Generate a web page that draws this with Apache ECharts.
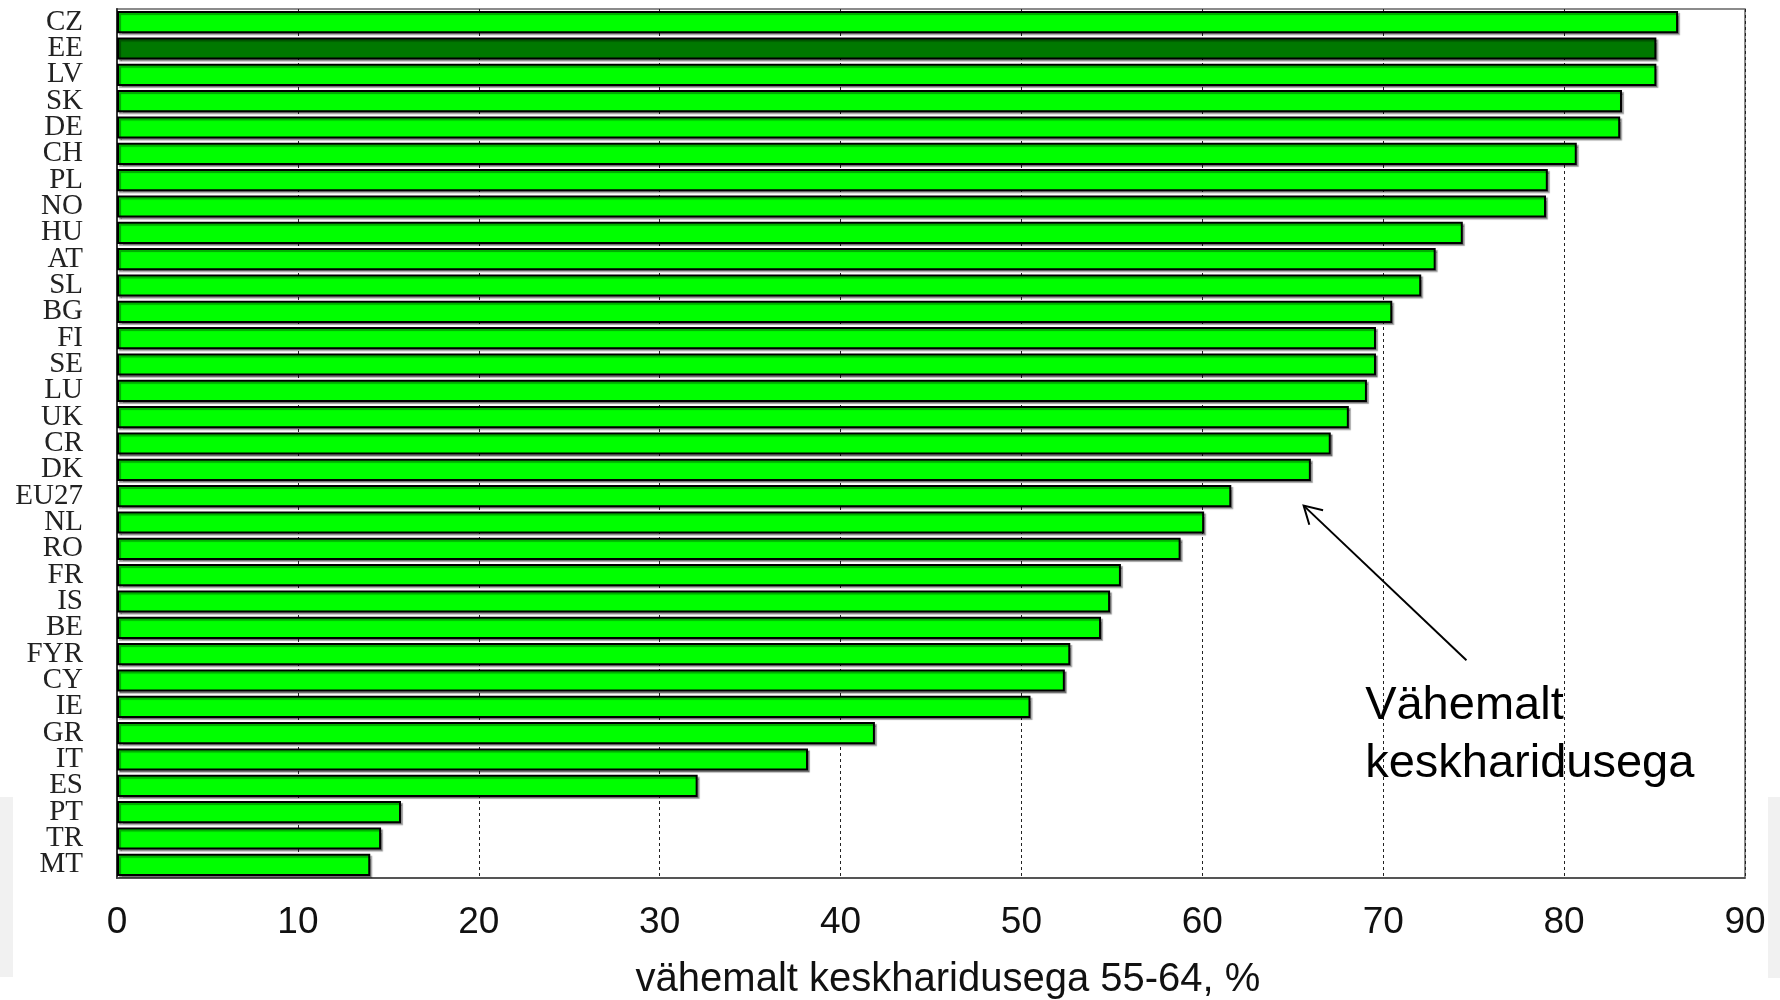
<!DOCTYPE html>
<html>
<head>
<meta charset="utf-8">
<script src="https://cdn.jsdelivr.net/npm/echarts@6/dist/echarts.min.js"></script>
<style>
  html, body { margin: 0; padding: 0; background: #ffffff; }
  #chart { width: 1780px; height: 1000px; }
</style>
</head>
<body>
<div id="chart"></div>
<script>
// ---- data ----
const categories = ['CZ','EE','LV','SK','DE','CH','PL','NO','HU','AT','SL','BG','FI','SE','LU','UK','CR','DK','EU27','NL','RO','FR','IS','BE','FYR','CY','IE','GR','IT','ES','PT','TR','MT'];
const values = [86.3,85.1,85.1,83.2,83.1,80.7,79.1,79.0,74.4,72.9,72.1,70.5,69.6,69.6,69.1,68.1,67.1,66.0,61.6,60.1,58.8,55.5,54.9,54.4,52.7,52.4,50.5,41.9,38.2,32.1,15.7,14.6,14.0];
const highlightCategory = 'EE';
const xMin = 0, xMax = 90, xStep = 10;
const xAxisTitle = 'vähemalt keskharidusega 55-64, %';
const noteText = 'Vähemalt\nkeskharidusega';
// annotation anchors in data space: [value, category position]
const arrowTip = [65.6, 18.36];
const arrowTail = [74.6, 24.23];
const noteAnchor = [69.0, 24.88];

const chart = echarts.init(document.getElementById('chart'), null, { renderer: 'canvas' });

const barData = values.map((v, i) => categories[i] === highlightCategory
  ? { value: v, itemStyle: { color: '#007800' } }
  : { value: v });

chart.setOption({
  animation: false,
  backgroundColor: '#ffffff',
  grid: { left: 117, right: 35, top: 9, bottom: 122, containLabel: false, outerBoundsMode: 'none',
    show: true, borderColor: '#666', borderWidth: 1.5 },
  xAxis: {
    type: 'value', min: xMin, max: xMax, interval: xStep,
    axisLine: { show: true, lineStyle: { color: '#444', width: 1.5 } },
    axisTick: { show: false },
    axisLabel: { fontSize: 37, fontFamily: 'Liberation Sans', color: '#111', margin: 26 },
    splitLine: { show: true, lineStyle: { type: [3, 3], color: '#222', width: 1 } },
    name: xAxisTitle, nameLocation: 'middle', nameGap: 82,
    nameTextStyle: { fontSize: 40, fontFamily: 'Liberation Sans', color: '#111', padding: [0, 0, 0, 34] }
  },
  yAxis: {
    type: 'category', data: categories, inverse: true,
    axisLine: { show: true, lineStyle: { color: '#333', width: 2 } },
    axisTick: { show: false },
    axisLabel: { interval: 0, fontFamily: 'Liberation Serif', fontSize: 29, color: '#222', margin: 34 }
  },
  series: [{
    type: 'bar', data: barData, barCategoryGap: '16%',
    itemStyle: { color: '#00ff00', borderColor: '#000', borderWidth: 2,
      shadowColor: 'rgba(0,0,0,0.35)', shadowOffsetX: 2, shadowOffsetY: 2, shadowBlur: 1 }
  }]
});

// map data-space annotation coords to pixels via the chart's own axes
const p0 = chart.convertToPixel({ gridIndex: 0 }, [xMin, 0]);
const p1 = chart.convertToPixel({ gridIndex: 0 }, [xMax, categories.length - 1]);
function toPx(pt) {
  const x = p0[0] + (pt[0] - xMin) / (xMax - xMin) * (p1[0] - p0[0]);
  const y = p0[1] + pt[1] / (categories.length - 1) * (p1[1] - p0[1]);
  return [x, y];
}
const tip = toPx(arrowTip), tail = toPx(arrowTail), note = toPx(noteAnchor);
const ang = Math.atan2(tail[1] - tip[1], tail[0] - tip[0]);
const wing = 20, spread = Math.PI / 6;
const w1 = [tip[0] + wing * Math.cos(ang - spread), tip[1] + wing * Math.sin(ang - spread)];
const w2 = [tip[0] + wing * Math.cos(ang + spread), tip[1] + wing * Math.sin(ang + spread)];

chart.setOption({
  graphic: [
    { type: 'rect', z: -10, shape: { x: 0, y: 797, width: 13, height: 180 }, style: { fill: '#f1f1f1' } },
    { type: 'rect', z: -10, shape: { x: 1768, y: 797, width: 12, height: 181 }, style: { fill: '#f1f1f1' } },
    { type: 'polyline', z: 100, shape: { points: [tail, tip] }, style: { stroke: '#000', lineWidth: 2, fill: null } },
    { type: 'polyline', z: 100, shape: { points: [w1, tip, w2] }, style: { stroke: '#000', lineWidth: 2, fill: null } },
    { type: 'text', z: 100, x: note[0], y: note[1],
      style: { text: noteText, font: '47px "Liberation Sans"', fill: '#000', lineHeight: 58,
        textAlign: 'left', textVerticalAlign: 'top' } }
  ]
});
</script>
</body>
</html>
